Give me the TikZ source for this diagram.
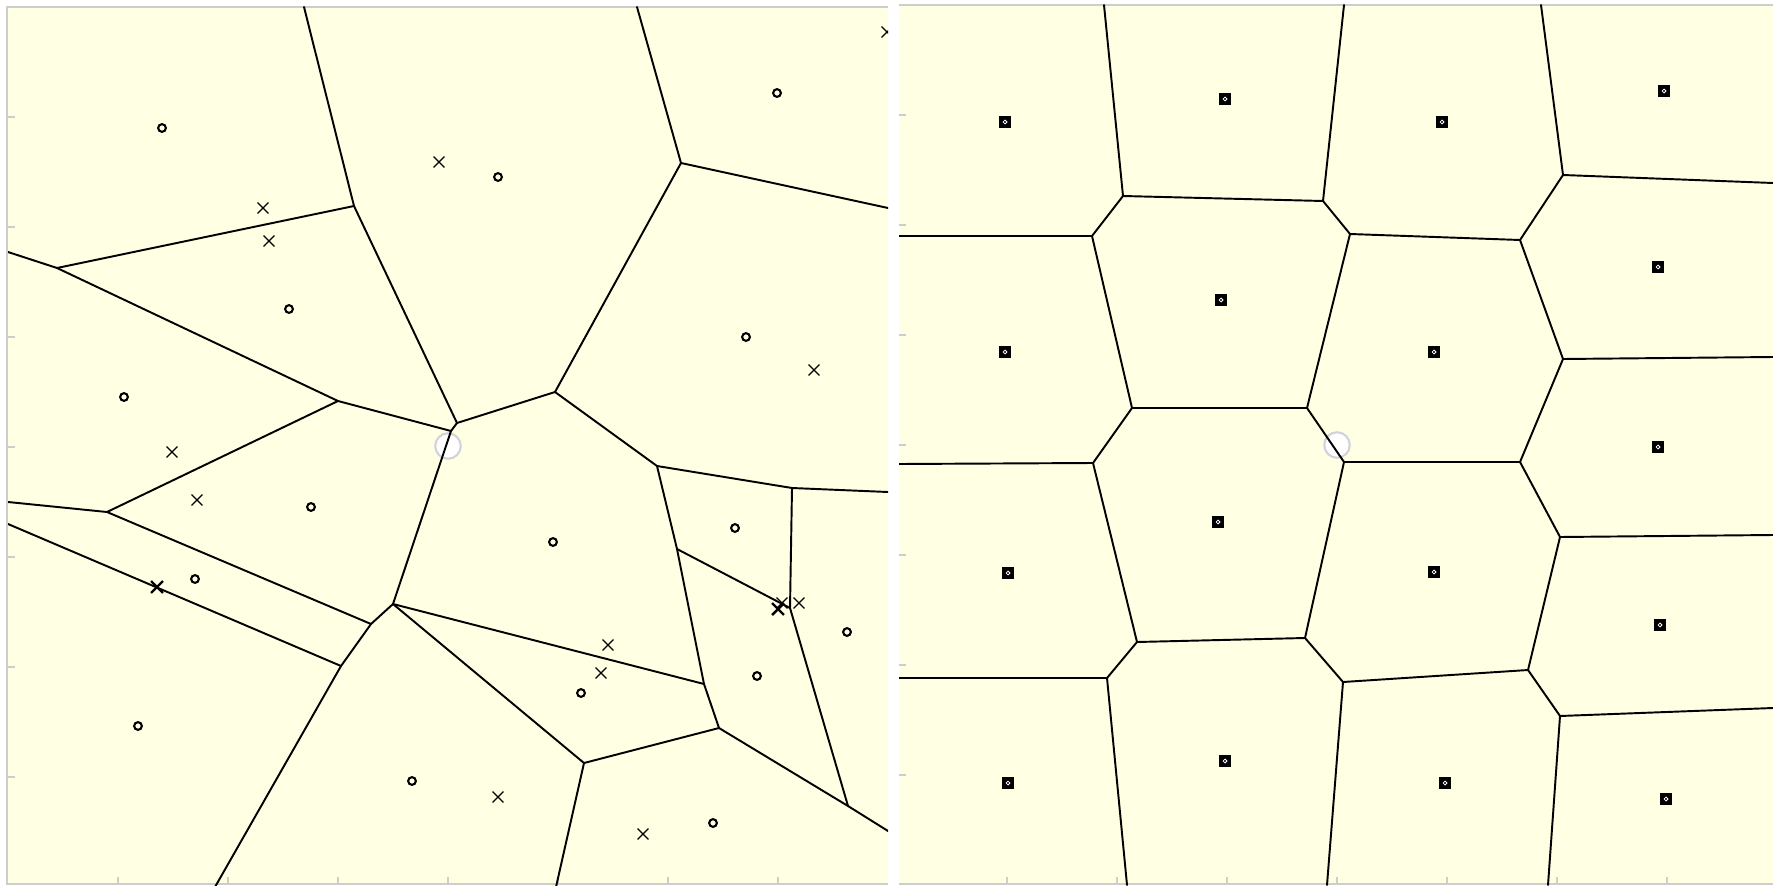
\documentclass[tikz,border=0pt]{standalone}
\usetikzlibrary{shapes.misc}
\definecolor{cellyellow}{RGB}{255,255,228}
\definecolor{axisgray}{RGB}{205,205,205}
\definecolor{probegray}{RGB}{210,210,222}

\begin{document}
\begin{tikzpicture}[x=0.02cm, y=-0.02cm,
  vedge/.style={line width=1.1pt, line cap=round, line join=round},
  site/.style={circle, draw, line width=1.2pt, inner sep=0pt, minimum size=4.4pt},
  cross/.style={cross out, draw, line width=0.75pt, inner sep=0pt, minimum size=5.4pt},
  boldcross/.style={cross, line width=1.4pt},
  seed/.style={rectangle, fill=black, inner sep=0pt, minimum size=6.6pt,
    path picture={\draw[white, line width=0.45pt] (path picture bounding box.center) circle (1.1pt);}},
  probe/.style={circle, draw=probegray, fill=white, line width=1.2pt, inner sep=0pt, minimum size=14.5pt},
  axistick/.style={axisgray, line width=0.8pt}]
\useasboundingbox (0,0) rectangle (1773,885);

% left panel: frame and ticks
\fill[cellyellow] (8,8) rectangle (888,883);
\draw[axisgray, line width=1.6pt] (7,885) -- (7,7) -- (888,7);
\draw[axisgray, line width=1pt] (7,884) -- (888,884);
\foreach \t in {117,227,...,777} \draw[axistick] (7,\t) -- (15,\t);
\foreach \t in {118,228,...,778} \draw[axistick] (\t,884) -- (\t,877);

% right panel: frame and ticks
\fill[cellyellow] (899,6) rectangle (1773,883);
\draw[axisgray, line width=1.6pt] (899,5) -- (1773,5);
\draw[axisgray, line width=1pt] (899,884) -- (1773,884);
\foreach \t in {115,225,...,775} \draw[axistick] (899,\t) -- (906,\t);
\foreach \t in {1007,1117,...,1667} \draw[axistick] (\t,884) -- (\t,877);

\node (probeL) [probe] at (448,446) {};
\node (probeR) [probe] at (1337,445) {};

% left diagram
\begin{scope}
\clip (8,7) rectangle (888,887);
\coordinate (A) at (354,206);
\coordinate (B) at (57,268);
\coordinate (C) at (338,401);
\coordinate (D) at (681,163);
\coordinate (E) at (555,392);
\coordinate (F1) at (457,423);
\coordinate (F2) at (451,431);
\coordinate (G) at (393,604);
\coordinate (H) at (107,512);
\coordinate (I) at (371,624);
\coordinate (J) at (341,666);
\coordinate (K) at (657,466);
\coordinate (L) at (792,488);
\coordinate (M) at (790,608);
\coordinate (N) at (677,549);
\coordinate (O) at (704,684);
\coordinate (P) at (719,728);
\coordinate (Q) at (848,806);
\coordinate (R) at (584,763);
\coordinate (tA) at (304,7);
\coordinate (tD) at (637,7);
\coordinate (rD) at (888,208);
\coordinate (rL) at (888,492);
\coordinate (rQ) at (888,831);
\coordinate (lB) at (8,252);
\coordinate (lH) at (8,502);
\coordinate (lJ) at (8,524);
\coordinate (bJ) at (215,887);
\coordinate (bR) at (556,887);

\path [vedge]
  (tA) edge (A) (A) edge (B) (A) edge (F1)
  (B) edge (lB) (B) edge (C)
  (C) edge (H) (C) edge (F2)
  (F1) edge (F2) (F1) edge (E) (F2) edge (G)
  (D) edge (tD) (D) edge (rD) (D) edge (E)
  (E) edge (K) (K) edge (L) (L) edge (rL)
  (K) edge (N) (N) edge (O) (O) edge (P)
  (N) edge (M) (L) edge (M) (M) edge (Q)
  (P) edge (Q) (Q) edge (rQ)
  (H) edge (lH) (G) edge (I) (I) edge (H)
  (I) edge (J) (J) edge (lJ) (J) edge (bJ)
  (G) edge (O) (G) edge (R) (R) edge (P) (R) edge (bR);

\node (c1) [site] at (162,128) {};
\node (c2) [site] at (289,309) {};
\node (c3) [site] at (124,397) {};
\node (c4) [site] at (498,177) {};
\node (c5) [site] at (777,93) {};
\node (c6) [site] at (746,337) {};
\node (c7) [site] at (311,507) {};
\node (c8) [site] at (195,579) {};
\node (c9) [site] at (138,726) {};
\node (c10) [site] at (412,781) {};
\node (c11) [site] at (553,542) {};
\node (c12) [site] at (735,528) {};
\node (c13) [site] at (847,632) {};
\node (c14) [site] at (757,676) {};
\node (c15) [site] at (581,693) {};
\node (c16) [site] at (713,823) {};

\node (x1) [cross] at (263,208) {};
\node (x2) [cross] at (269,241) {};
\node (x3) [cross] at (439,162) {};
\node (x4) [cross] at (172,452) {};
\node (x5) [cross] at (197,500) {};
\node (x6) [cross] at (887,32) {};
\node (x7) [cross] at (814,370) {};
\node (x8) [cross] at (608,645) {};
\node (x9) [cross] at (601,673) {};
\node (x10) [cross] at (498,797) {};
\node (x11) [cross] at (643,834) {};
\node (x12) [cross] at (799,603) {};
\node (x13) [boldcross] at (157,587) {};
\node (x14) [boldcross] at (778,609) {};
\node (x15) [cross] at (782,603) {};
\end{scope}

% right diagram
\begin{scope}
\clip (899,5) rectangle (1773,885);
\coordinate (R1) at (1123,196);
\coordinate (R2) at (1323,201);
\coordinate (R3) at (1092,236);
\coordinate (R4) at (1132,408);
\coordinate (R5) at (1307,408);
\coordinate (R6) at (1350,234);
\coordinate (R7) at (1520,240);
\coordinate (R8) at (1563,175);
\coordinate (R9) at (1563,359);
\coordinate (R10) at (1093,463);
\coordinate (R11) at (1137,642);
\coordinate (R12) at (1305,638);
\coordinate (R13) at (1344,462);
\coordinate (R14) at (1520,462);
\coordinate (R15) at (1560,537);
\coordinate (R16) at (1528,670);
\coordinate (R17) at (1560,716);
\coordinate (R18) at (1343,682);
\coordinate (R19) at (1107,678);
\coordinate (t1) at (1104,5);
\coordinate (t2) at (1344,5);
\coordinate (t8) at (1541,5);
\coordinate (l3) at (899,236);
\coordinate (l10) at (899,464);
\coordinate (l19) at (899,678);
\coordinate (r8) at (1773,183);
\coordinate (r9) at (1773,357);
\coordinate (r15) at (1773,535);
\coordinate (r17) at (1773,708);
\coordinate (b19) at (1127,885);
\coordinate (b18) at (1327,885);
\coordinate (b17) at (1548,885);

\path [vedge]
  (t1) edge (R1) (R1) edge (R2) (R1) edge (R3)
  (R3) edge (l3) (R3) edge (R4) (R4) edge (R5)
  (R4) edge (R10) (R10) edge (l10) (R10) edge (R11)
  (R11) edge (R12) (R11) edge (R19) (R19) edge (l19) (R19) edge (b19)
  (t2) edge (R2) (R2) edge (R6) (R6) edge (R7) (R6) edge (R5)
  (R5) edge (R13) (R13) edge (R14) (R13) edge (R12)
  (R12) edge (R18) (R18) edge (b18) (R18) edge (R16)
  (R16) edge (R15) (R16) edge (R17) (R17) edge (r17) (R17) edge (b17)
  (R15) edge (r15) (R15) edge (R14) (R14) edge (R9)
  (R9) edge (r9) (R9) edge (R7) (R7) edge (R8)
  (R8) edge (t8) (R8) edge (r8);

\node (s1) [seed] at (1005,122) {};
\node (s2) [seed] at (1225,99) {};
\node (s3) [seed] at (1442,122) {};
\node (s4) [seed] at (1664,91) {};
\node (s5) [seed] at (1221,300) {};
\node (s6) [seed] at (1658,267) {};
\node (s7) [seed] at (1005,352) {};
\node (s8) [seed] at (1434,352) {};
\node (s9) [seed] at (1658,447) {};
\node (s10) [seed] at (1218,522) {};
\node (s11) [seed] at (1008,573) {};
\node (s12) [seed] at (1434,572) {};
\node (s13) [seed] at (1660,625) {};
\node (s14) [seed] at (1008,783) {};
\node (s15) [seed] at (1225,761) {};
\node (s16) [seed] at (1445,783) {};
\node (s17) [seed] at (1666,799) {};
\end{scope}
\end{tikzpicture}
\end{document}
